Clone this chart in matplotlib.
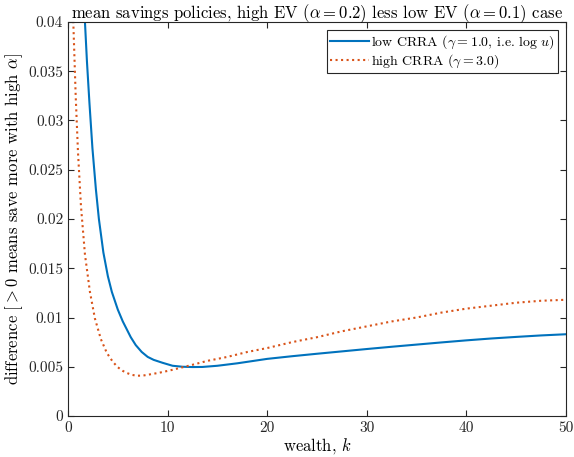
import matplotlib
matplotlib.use("Agg")
import matplotlib.pyplot as plt

plt.rcParams['font.family'] = 'serif'
plt.rcParams['font.serif'] = ['cmr10', 'DejaVu Serif']
plt.rcParams['mathtext.fontset'] = 'cm'
plt.rcParams['axes.formatter.use_mathtext'] = True

# low CRRA (gamma = 1.0)
k_low = [1.5, 1.7, 1.9, 2.15, 2.45, 2.8, 3.1, 3.55, 4.0, 4.4, 5.0, 5.5, 6.3,
         6.8, 7.4, 8.0, 8.6, 9.5, 10.5, 11.5, 12.5, 13.5, 15.0, 17.0, 20.0,
         22.5, 25.0, 27.5, 30.0, 32.5, 35.0, 37.5, 40.0, 42.5, 45.0, 47.5, 50.0]
d_low = [0.0445, 0.0400, 0.0360, 0.0318, 0.0272, 0.0230, 0.0200, 0.0166,
         0.0142, 0.0126, 0.0108, 0.0096, 0.0080, 0.0072, 0.0065, 0.0060,
         0.0057, 0.0054, 0.0051, 0.00500, 0.00497, 0.00498, 0.00510,
         0.00535, 0.0058, 0.00607, 0.00632, 0.00656, 0.0068, 0.00703, 0.00725,
         0.00747, 0.00768, 0.00787, 0.00803, 0.00818, 0.0083]

# high CRRA (gamma = 3.0)
k_high = [0.45, 0.53, 0.77, 1.0, 1.3, 1.7, 2.2, 2.7, 3.3, 3.9, 4.5, 5.0, 5.5,
          5.9, 6.4, 6.9, 7.5, 8.2, 9.2, 10.2, 11.2, 12.5, 14.0, 16.0, 18.0,
          20.0, 22.5, 25.0, 27.5, 30.0, 32.5, 35.0, 37.5, 40.0, 42.5, 45.0,
          47.5, 50.0]
d_high = [0.0445, 0.0400, 0.0325, 0.0268, 0.0213, 0.0164, 0.0126, 0.0099,
          0.0078, 0.0064, 0.0055, 0.00495, 0.00458, 0.00437, 0.00418, 0.00409,
          0.00410, 0.00422, 0.00440, 0.00462, 0.00487, 0.0052, 0.0056,
          0.0060, 0.0065, 0.0069, 0.0075, 0.0080, 0.0086, 0.0091, 0.0096,
          0.0100, 0.0105, 0.0109, 0.0112, 0.0115, 0.0117, 0.0118]

xticks = [0, 10, 20, 30, 40, 50]
yticks = [0, 0.005, 0.01, 0.015, 0.02, 0.025, 0.03, 0.035, 0.04]
ytick_labels = ['0', '0.005', '0.01', '0.015', '0.02', '0.025', '0.03', '0.035', '0.04']

fig = plt.figure(figsize=(5.74, 4.57), dpi=100)
ax = fig.add_axes([0.1185, 0.0897, 0.8675, 0.8622])

ax.plot(k_low, d_low, color='#0072BD', lw=1.5, label=r'low CRRA ($\gamma = 1.0$, i.e. $\log\, u$)')
ax.plot(k_high, d_high, color='#D95319', lw=1.5, ls=':', label=r'high CRRA ($\gamma = 3.0$)')

ax.set_xlim(0, 50)
ax.set_ylim(0, 0.04)
ax.set_xticks(xticks)
ax.set_xticklabels([str(t) for t in xticks])
ax.set_yticks(yticks)
ax.set_yticklabels(ytick_labels)
ax.tick_params(direction='in', top=True, right=True, length=4, width=0.8,
               labelsize=11, colors='#262626')
for s in ax.spines.values():
    s.set_color('#262626')
    s.set_linewidth(0.8)

ax.set_title(r'mean savings policies, high EV ($\alpha = 0.2$) less low EV ($\alpha = 0.1$) case',
             fontsize=12, pad=3)
ax.set_xlabel(r'wealth, $k$', fontsize=12, labelpad=1)
ax.set_ylabel(r'difference [$> 0$ means save more with high $\alpha$]', fontsize=12, labelpad=2)

leg = ax.legend(loc='upper right', fontsize=10, fancybox=False, edgecolor='#262626',
                framealpha=1, borderpad=0.2, labelspacing=0.1, handlelength=2.8,
                handletextpad=0.2, borderaxespad=0.6)
leg.get_frame().set_linewidth(0.8)

fig.savefig('out.png', dpi=100)
